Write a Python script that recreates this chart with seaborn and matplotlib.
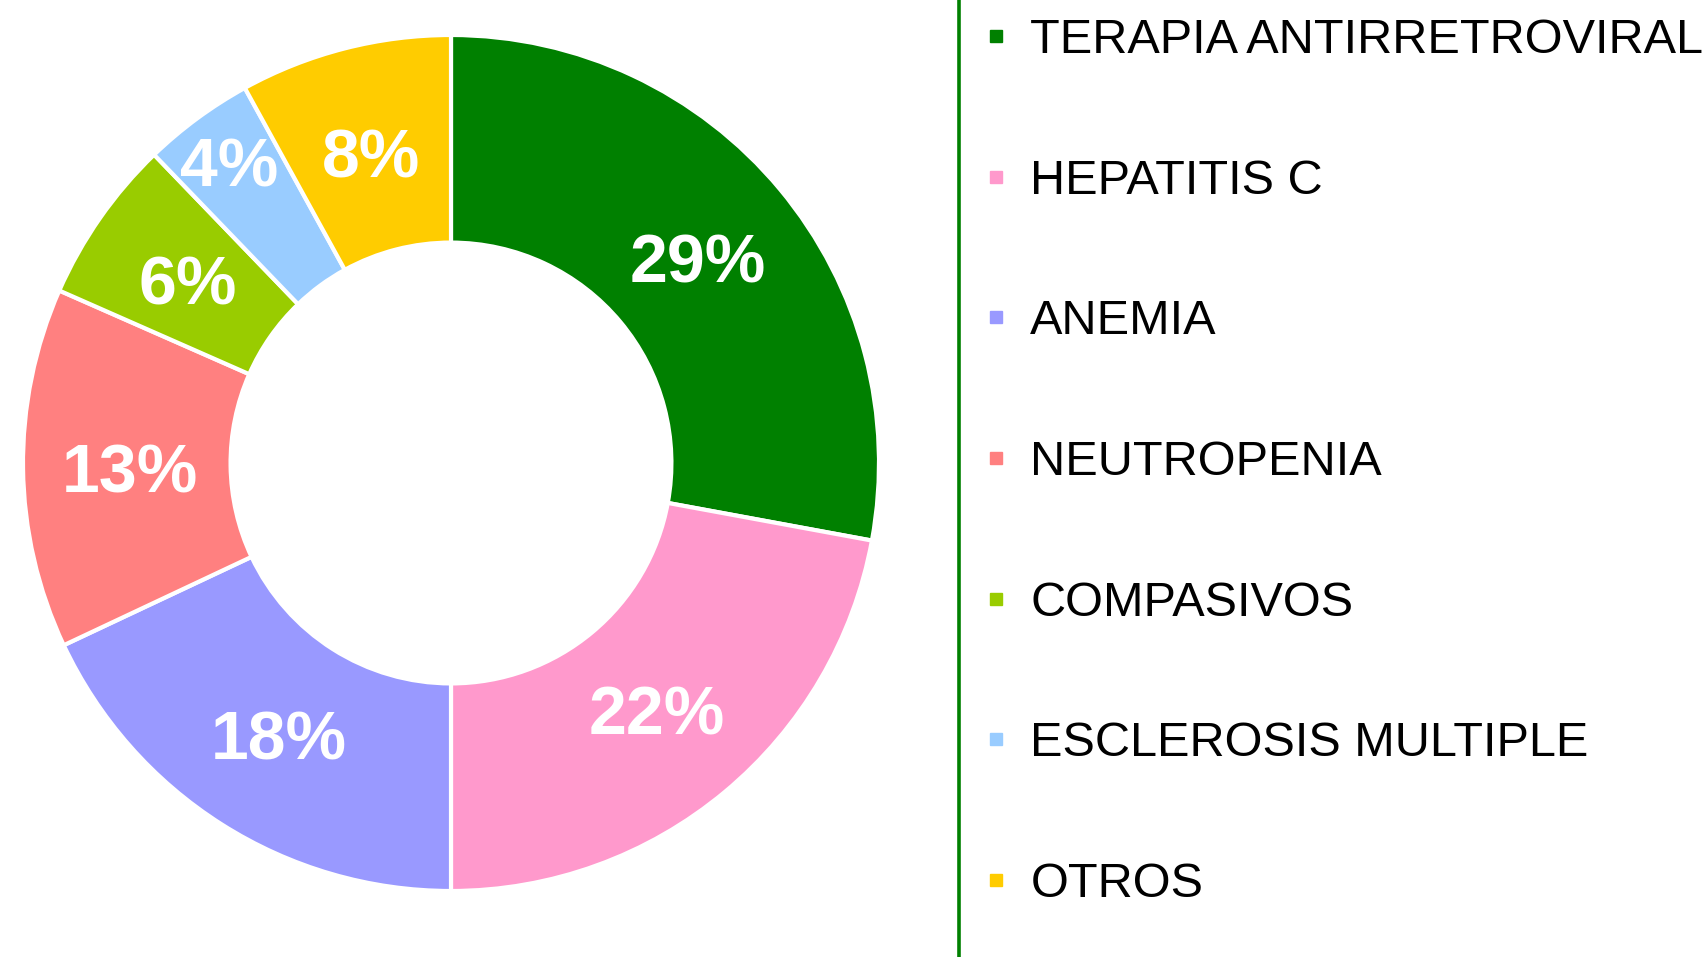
import numpy as np
import matplotlib
matplotlib.use("Agg")
import matplotlib.pyplot as plt
from matplotlib.lines import Line2D
import seaborn as sns

categories = ["TERAPIA ANTIRRETROVIRAL", "HEPATITIS C", "ANEMIA", "NEUTROPENIA",
              "COMPASIVOS", "ESCLEROSIS MULTIPLE", "OTROS"]
values = [27.9, 22.1, 18.0, 13.6, 6.2, 4.2, 8.0]
pct_labels = ["29%", "22%", "18%", "13%", "6%", "4%", "8%"]
colors_hex = ["#008000", "#FF99CC", "#9999FF", "#FF8080", "#99CC00", "#99CCFF", "#FFCC00"]

sns.set_theme(style="white")
plt.rcParams["font.family"] = ["Liberation Sans", "DejaVu Sans"]
palette = sns.color_palette(colors_hex)

W, H = 1708, 957
fig = plt.figure(figsize=(W / 100, H / 100), dpi=100)
fig.patch.set_facecolor("white")

cx, cy, R = 451, 463, 428
ax = fig.add_axes([(cx - R) / W, (H - cy - R) / H, 2 * R / W, 2 * R / H])
wedges, texts, autotexts = ax.pie(
    values, colors=palette, startangle=90, counterclock=False, radius=1,
    wedgeprops=dict(width=0.485, edgecolor="white", linewidth=3),
    autopct="%1.0f%%", pctdistance=0.75,
    textprops=dict(color="white", fontsize=49, fontweight="bold"))
dists = [0.75, 0.75, 0.75, 0.75, 0.75, 0.875, 0.75]
for w, t, lab, d in zip(wedges, autotexts, pct_labels, dists):
    t.set_text(lab)
    ang = np.deg2rad((w.theta1 + w.theta2) / 2)
    t.set_position((d * np.cos(ang), d * np.sin(ang)))
    t.set_va("center_baseline")
ax.set_xlim(-1, 1)
ax.set_ylim(-1, 1)
ax.set_aspect("equal")
ax.axis("off")

# green vertical separator
fig.add_artist(Line2D([959 / W, 959 / W], [0, 1], transform=fig.transFigure,
                      color="#008000", linewidth=2.6))

handles = [Line2D([0], [0], marker="s", linestyle="none", markersize=8.5,
                  markerfacecolor=c, markeredgecolor=c) for c in palette]
fig.legend(handles, categories, loc="upper left",
           bbox_to_anchor=(955 / W, 1.0 + 1 / H), frameon=False,
           fontsize=35, labelspacing=1.965, handlelength=0.9,
           handletextpad=0.25, borderaxespad=0, labelcolor="black")

fig.savefig("out.png", dpi=100, facecolor="white")
